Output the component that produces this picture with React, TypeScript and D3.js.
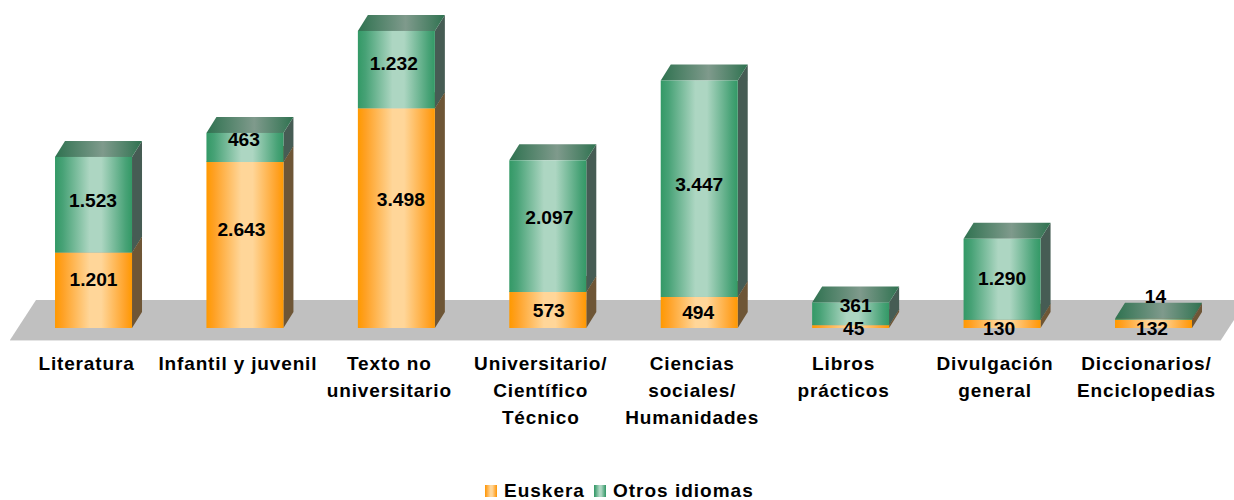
import React from "react";
import * as d3 from "d3";

const categories = ["Literatura", "Infantil y juvenil", "Texto no universitario", "Universitario/ Científico Técnico", "Ciencias sociales/ Humanidades", "Libros prácticos", "Divulgación general", "Diccionarios/ Enciclopedias"];
const categoryLines = [["Literatura"], ["Infantil y juvenil"], ["Texto no", "universitario"], ["Universitario/", "Científico", "Técnico"], ["Ciencias", "sociales/", "Humanidades"], ["Libros", "prácticos"], ["Divulgación", "general"], ["Diccionarios/", "Enciclopedias"]];
const euskera = [1201, 2643, 3498, 573, 494, 45, 130, 132];
const otros = [1523, 463, 1232, 2097, 3447, 361, 1290, 14];
const euskeraNudge = [-11, -16, -19, 0, 0, 2, 4, 4];
const otrosNudge = [-5, -8, -6, -9, -5, -9, -1, -23];
const euskeraNudgeX = [0, -3.5, 4.5, 1, -1, 3, -3, -1.5];
const otrosNudgeX = [-0.5, -1, -2.5, 1.5, 0, 5, 0, 2];

const W = 1234, H = 500;
const DX = 10, DY = 16, BAR_W = 77;
const fmt = (v: number) => d3.format(",")(v).replace(/,/g, ".");

const x = d3.scaleBand<string>().domain(categories).range([17.8, 1229.2]).paddingInner(0.4916).paddingOuter(0.2458);
const y = d3.scaleLinear().domain([0, 5000]).range([328, 14]);

function grad(id: string, stops: [number, string][]) {
  return (
    <linearGradient id={id} x1="0" x2="1" y1="0" y2="0" key={id}>
      {stops.map(([o, c]) => <stop key={o} offset={o} stopColor={c} />)}
    </linearGradient>
  );
}

function Segment({ x0, from, to, front, top, side }: { x0: number; from: number; to: number; front: string; top: string; side: string }) {
  const yb = y(from), yt = y(to), x1 = x0 + BAR_W;
  return (
    <g>
      <polygon points={`${x1},${yb} ${x1 + DX},${yb - DY} ${x1 + DX},${yt - DY} ${x1},${yt}`} fill={side} />
      <polygon points={`${x0},${yt} ${x0 + DX},${yt - DY} ${x1 + DX},${yt - DY} ${x1},${yt}`} fill={top} />
      <rect x={x0} y={yt} width={BAR_W} height={yb - yt} fill={front} />
    </g>
  );
}

const font = { fontFamily: "'Liberation Sans', Arial, sans-serif", fontWeight: 700 };

export default function App() {
  return (
    <svg width={W} height={H} style={{ position: "absolute", left: 0, top: 0 }}>
      <defs>
        {grad("fo", [[0, "#ff9900"], [0.1, "#ffa124"], [0.45, "#ffd699"], [0.6, "#ffd699"], [0.92, "#ffa124"], [1, "#ff9900"]])}
        {grad("fg", [[0, "#339966"], [0.1, "#47a276"], [0.45, "#add6c2"], [0.6, "#add6c2"], [0.92, "#47a276"], [1, "#339966"]])}
        {grad("tg", [[0, "#2f7250"], [0.55, "#7f9a8c"], [1, "#2f7250"]])}
      </defs>
      <polygon points="10,340 36,300 1247,300 1221,340" fill="#c0c0c0" />
      <line x1={10} x2={1221} y1={340.5} y2={340.5} stroke="#e4e4e4" />
      {categories.map((c, i) => {
        const x0 = x(c)!;
        return (
          <g key={c}>
            <Segment x0={x0} from={0} to={euskera[i]} front="url(#fo)" top="#7a5a30" side="#6e5636" />
            <Segment x0={x0} from={euskera[i]} to={euskera[i] + otros[i]} front="url(#fg)" top="url(#tg)" side="#465c54" />
          </g>
        );
      })}
      {categories.map((c, i) => {
        const cx = x(c)! + BAR_W / 2;
        const ye = (y(0) + y(euskera[i])) / 2 + euskeraNudge[i];
        const yo = (y(euskera[i]) + y(euskera[i] + otros[i])) / 2 + otrosNudge[i];
        return (
          <g key={c} textAnchor="middle" fontSize={19.2} fill="#000" style={font}>
            <text x={cx + euskeraNudgeX[i]} y={ye + 6.8}>{fmt(euskera[i])}</text>
            <text x={cx + otrosNudgeX[i]} y={yo + 6.8}>{fmt(otros[i])}</text>
          </g>
        );
      })}
      {categories.map((c, i) => (
        <text key={c} textAnchor="middle" fontSize={19} letterSpacing={0.85} fill="#000" style={font}>
          {categoryLines[i].map((l, j) => (
            <tspan key={l} x={x(c)! + BAR_W / 2 - 7} y={370 + j * 27}>{l}</tspan>
          ))}
        </text>
      ))}
      <rect x={485} y={485} width={12} height={12} fill="url(#fo)" />
      <text x={504} y={497} fontSize={19} letterSpacing={1} style={font}>Euskera</text>
      <rect x={594} y={485} width={12} height={12} fill="url(#fg)" />
      <text x={613} y={497} fontSize={19} letterSpacing={1} style={font}>Otros idiomas</text>
    </svg>
  );
}
